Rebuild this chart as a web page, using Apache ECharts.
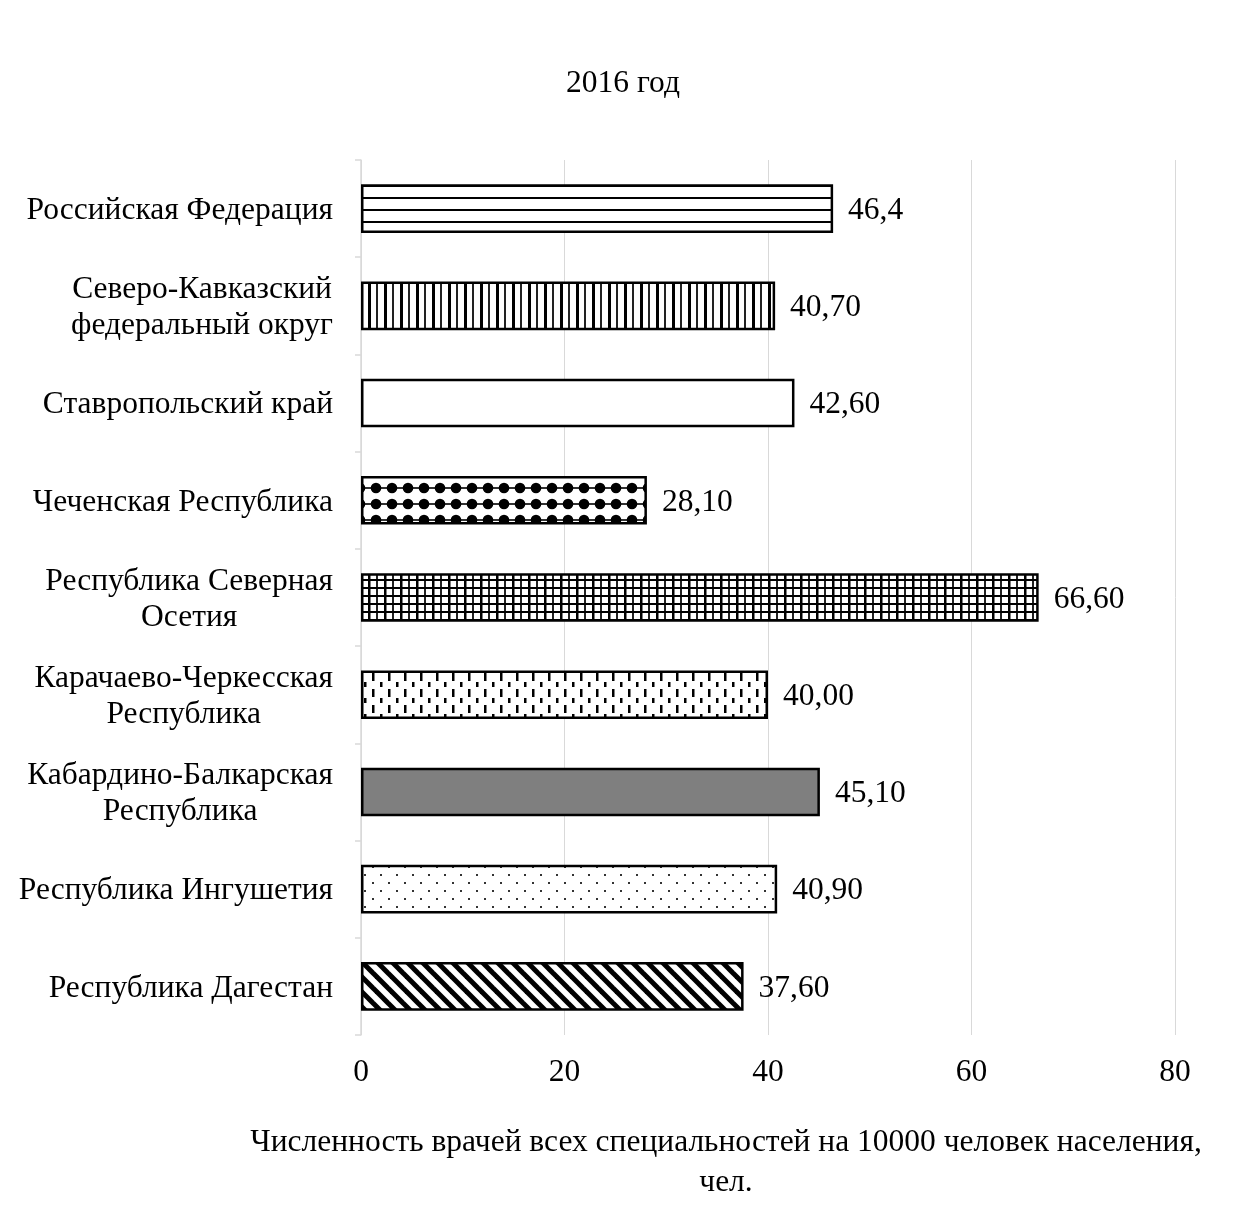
<!DOCTYPE html>
<html>
<head>
<meta charset="utf-8">
<script src="https://cdn.jsdelivr.net/npm/echarts@6/dist/echarts.min.js"></script>
<style>
  html, body { margin: 0; padding: 0; background: #fff; }
  #chart { width: 1237px; height: 1227px; }
</style>
</head>
<body>
<div id="chart"></div>
<script>
// Regions, top to bottom
const categories = [
  'Российская Федерация',
  'Северо-Кавказский\nфедеральный округ',
  'Ставропольский край',
  'Чеченская Республика',
  'Республика Северная\nОсетия',
  'Карачаево-Черкесская\nРеспублика',
  'Кабардино-Балкарская\nРеспублика',
  'Республика Ингушетия',
  'Республика Дагестан'
];
// Doctors of all specialities per 10 000 population
const values = [46.4, 40.7, 42.6, 28.1, 66.6, 40.0, 45.1, 40.9, 37.6];
const valueLabels = ['46,4', '40,70', '42,60', '28,10', '66,60', '40,00', '45,10', '40,90', '37,60'];
const xTicks = [0, 20, 40, 60, 80];

const FONT = '"Liberation Serif", "Times New Roman", serif';
const FS = 31.5;

// Small repeating tiles used as bar fills
function tile(w, h, draw) {
  const c = document.createElement('canvas');
  c.width = w; c.height = h;
  const ctx = c.getContext('2d');
  ctx.fillStyle = '#fff';
  ctx.fillRect(0, 0, w, h);
  ctx.fillStyle = '#000';
  ctx.strokeStyle = '#000';
  draw(ctx);
  return { image: c, repeat: 'repeat' };
}

const fills = [
  // horizontal lines
  tile(16, 12, ctx => { ctx.fillRect(0, 5, 16, 2); }),
  // vertical lines, thick and thin
  tile(16, 8, ctx => { ctx.fillRect(0, 0, 3, 8); ctx.fillStyle = '#222'; ctx.fillRect(8, 0, 2, 8); }),
  // plain white
  '#ffffff',
  // large dots on a thin line
  tile(16, 16, ctx => {
    ctx.fillRect(0, 7.2, 16, 1.6);
    ctx.beginPath(); ctx.arc(8, 8, 5.3, 0, Math.PI * 2); ctx.fill();
  }),
  // fine grid
  tile(16, 8, ctx => {
    ctx.fillRect(0, 0, 2.5, 8);
    ctx.fillStyle = '#222'; ctx.fillRect(8, 0, 2, 8);
    ctx.fillStyle = '#000'; ctx.fillRect(0, 3, 16, 2);
  }),
  // staggered short dashes
  tile(16, 16, ctx => { ctx.fillRect(4, 1, 2.5, 8); ctx.fillRect(12, 10, 2.5, 5); }),
  // solid grey
  '#7f7f7f',
  // sparse dots
  tile(16, 16, ctx => { ctx.fillStyle = '#333'; ctx.fillRect(4, 2, 2, 2); ctx.fillRect(12, 10, 2, 2); }),
  // diagonal hatching
  tile(15, 15, ctx => {
    ctx.lineWidth = 5;
    for (let x0 = -15; x0 <= 15; x0 += 15) {
      ctx.beginPath(); ctx.moveTo(x0 - 2, -2); ctx.lineTo(x0 + 17, 17); ctx.stroke();
    }
  })
];

const chart = echarts.init(document.getElementById('chart'), null, { renderer: 'canvas' });

chart.setOption({
  backgroundColor: '#ffffff',
  animation: false,
  textStyle: { fontFamily: FONT },
  grid: { left: 361, right: 62, top: 160, bottom: 192, containLabel: false },
  xAxis: {
    type: 'value',
    min: xTicks[0],
    max: xTicks[xTicks.length - 1],
    interval: xTicks[1] - xTicks[0],
    axisLine: { show: false },
    axisTick: { show: false },
    splitLine: { show: true, lineStyle: { color: '#d9d9d9', width: 1 } },
    axisLabel: { margin: 22, fontFamily: FONT, fontSize: FS, color: '#000' }
  },
  yAxis: {
    type: 'category',
    inverse: true,
    data: categories,
    axisLine: { show: true, lineStyle: { color: '#d9d9d9', width: 1.5 } },
    axisTick: { show: true, length: 6, lineStyle: { color: '#d9d9d9', width: 1.5 } },
    axisLabel: {
      margin: 28,
      align: 'right',
      padding: [4, 0, 0, 0],
      formatter: v => v.split('\n').map(s => '{c|' + s + '}').join('\n'),
      rich: { c: { align: 'center', fontFamily: FONT, fontSize: FS, lineHeight: 36, color: '#000' } }
    }
  },
  series: [{
    type: 'bar',
    barWidth: '50%',
    data: values.map((v, i) => ({
      value: v,
      itemStyle: { color: fills[i], borderColor: '#000', borderWidth: 2.5 }
    })),
    label: {
      show: true,
      position: 'right',
      distance: 15,
      offset: [0, 2],
      formatter: p => valueLabels[p.dataIndex],
      fontFamily: FONT,
      fontSize: FS,
      color: '#000'
    }
  }],
  graphic: [
    {
      type: 'text',
      x: 623,
      y: 84,
      style: {
        text: '2016 год',
        font: FS + 'px ' + FONT,
        fill: '#000',
        textAlign: 'center',
        textVerticalAlign: 'middle'
      }
    },
    {
      type: 'text',
      x: 726,
      y: 1123,
      style: {
        text: 'Численность врачей всех специальностей на 10000 человек населения,\nчел.',
        font: FS + 'px ' + FONT,
        fill: '#000',
        textAlign: 'center',
        textVerticalAlign: 'top',
        lineHeight: 40
      }
    }
  ]
});
</script>
</body>
</html>
